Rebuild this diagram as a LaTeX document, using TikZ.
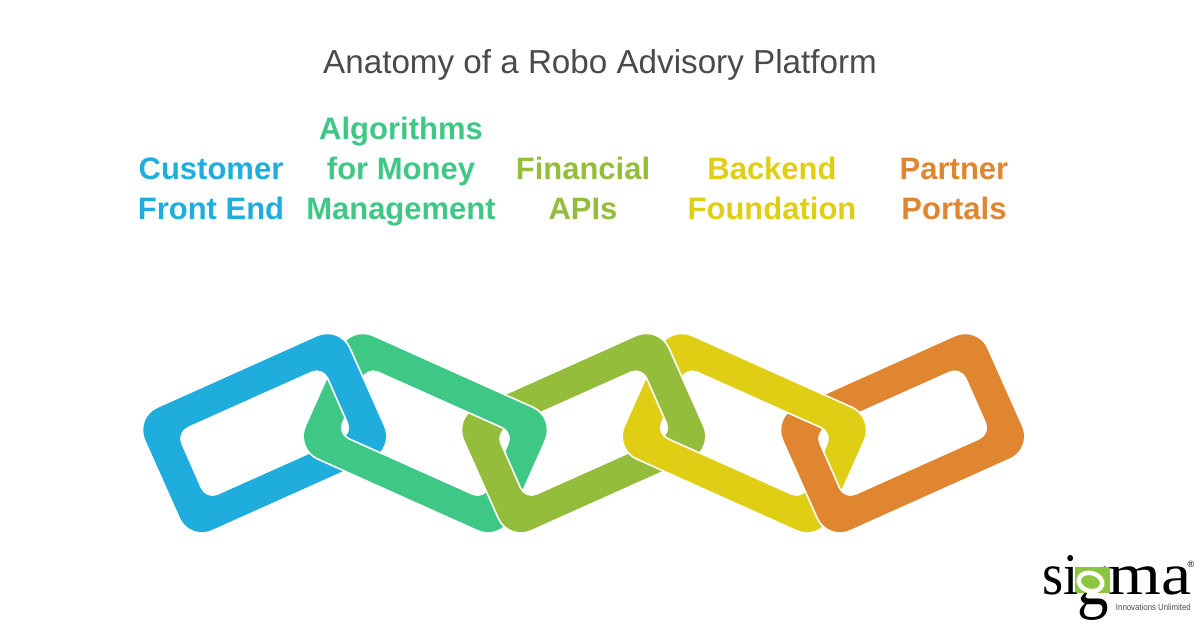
\documentclass[tikz,border=0pt]{standalone}
\usepackage{fontspec}
\setmainfont{Liberation Sans}
\newfontfamily\logofont{Liberation Serif}
\definecolor{linkblue}{HTML}{1FADDD}
\definecolor{linkgreen}{HTML}{3FC785}
\definecolor{linkolive}{HTML}{94BD3B}
\definecolor{linkyellow}{HTML}{E0CE15}
\definecolor{linkorange}{HTML}{E08530}
\definecolor{titlegrey}{HTML}{4A4A4A}
\definecolor{logogreen}{HTML}{8CC63F}

\newcommand{\linkup}{[rounded corners=24pt] (135.6,417.9) -- (339.3,326.5) -- (393.7,448.4) -- (189.9,539.8) -- cycle
  [rounded corners=13pt] (175.9,432) -- (323.25,366.1) -- (353.4,434.25) -- (205.95,500.2) -- cycle}
\newcommand{\linkdown}{[rounded corners=24pt] (554.4,417.9) -- (350.7,326.5) -- (296.3,448.4) -- (500.1,539.8) -- cycle
  [rounded corners=13pt] (514.1,432) -- (366.75,366.1) -- (336.6,434.25) -- (484.05,500.2) -- cycle}

\tikzset{
  link/.style={fill=#1,even odd rule,preaction={draw=white,line width=3.5pt}},
  heading/.style={font=\fontsize{33.2}{33.2}\selectfont,color=titlegrey},
  label/.style={font=\fontsize{31}{40}\selectfont\bfseries,color=#1,align=center,inner sep=0pt},
  logotext/.style={font=\logofont\fontsize{#1}{#1}\selectfont,inner sep=0pt,anchor=base west,transform shape}
}

\begin{document}
\begin{tikzpicture}[x=1pt,y=-1pt]
    \useasboundingbox (0,0) rectangle (1200,627);

    \node [heading] (title) at (600,65) {Anatomy of a Robo Advisory Platform};
    \node [label=linkblue] (customer) at (211,189) {Customer\\Front End};
    \node [label=linkgreen] (algorithms) at (401,172) {Algorithms\\for Money\\Management};
    \node [label=linkolive] (financial) at (583,188) {Financial\\APIs};
    \node [label=linkyellow] (backend) at (772,188) {Backend\\Foundation};
    \node [label=linkorange] (partner) at (954,189) {Partner\\Portals};

    % links, left to right, each one over the last
    \path [link=linkblue] \linkup;
    \path [link=linkgreen] \linkdown;
    \begin{scope}
        \clip (290,310) rectangle (410,420);
        \path [link=linkblue] \linkup;
    \end{scope}
    \begin{scope}[xshift=319pt]
        \path [link=linkolive] \linkup;
    \end{scope}
    \begin{scope}
        \clip (430,310) rectangle (570,437);
        \path [link=linkgreen] \linkdown;
    \end{scope}
    \begin{scope}[xshift=319pt]
        \path [link=linkyellow] \linkdown;
        \begin{scope}
            \clip (290,310) rectangle (410,420);
            \path [link=linkolive] \linkup;
        \end{scope}
    \end{scope}
    \begin{scope}[xshift=638pt]
        \path [link=linkorange] \linkup;
    \end{scope}
    \begin{scope}[xshift=319pt]
        \clip (430,310) rectangle (570,437);
        \path [link=linkyellow] \linkdown;
    \end{scope}

    % logo
    \node [logotext=74,xscale=0.85] (logog) at (1077,604) {g};
    \fill [logogreen] (1075,567) rectangle (1110,593);
    \draw [white,line width=4.5pt,rotate around={-15:(1090.5,582)}] (1090.5,582) ellipse (12 and 9);
    \node [logotext=59,xscale=0.92] (logosi) at (1042,594) {si};
    \node [logotext=59,xscale=1.15] (logoma) at (1108,594) {ma};
    \node [font=\fontsize{9}{9}\selectfont,color=black!70,inner sep=0pt,anchor=base east,transform shape,xscale=0.87] (logotag) at (1191,610) {Innovations Unlimited};
    \node [font=\fontsize{9}{9}\selectfont,inner sep=0pt] (logoreg) at (1191,564) {\textregistered};
\end{tikzpicture}
\end{document}
